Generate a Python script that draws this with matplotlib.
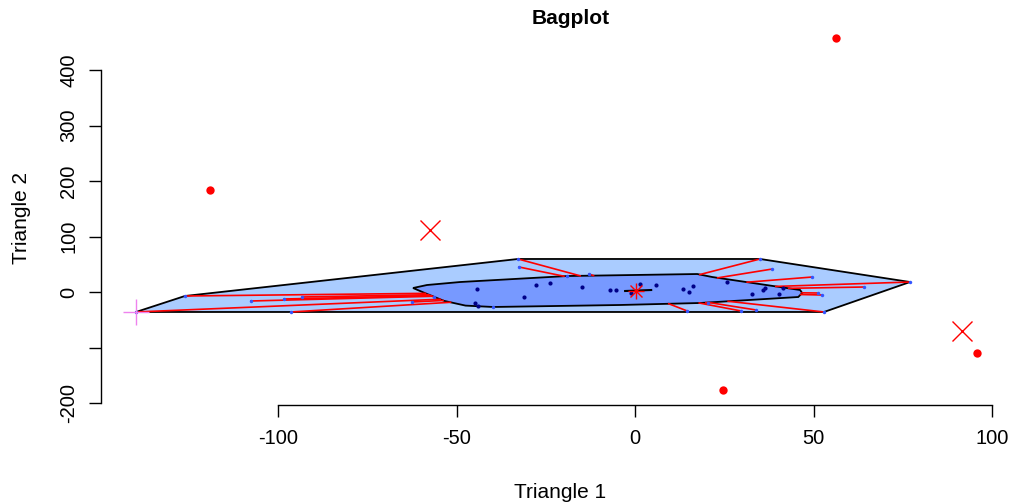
import numpy as np
import matplotlib.pyplot as plt
from matplotlib.path import Path

plt.rcParams['font.family'] = ['Liberation Sans', 'DejaVu Sans']

# outer hull ("loop")
loop_x = [-139.8, -126.1, -32.8, 35.0, 77.0, 52.9]
loop_y = [-36.0, -7.2, 59.5, 59.5, 18.0, -36.0]

# inner hull ("bag")
bag_x = [-62.2, -58.3, -49.0, -19.0, 17.4, 21.6, 46.2, 46.8, 45.7, 18.2, -4.2, -39.8, -47.5, -53.5, -58.5]
bag_y = [7.2, 12.6, 18.0, 28.8, 32.4, 27.0, 3.6, -1.8, -9.0, -19.8, -23.4, -27.0, -24.5, -16.0, -3.0]

# points between bag and loop
loop_pts_x = [-139.8, -126.1, -107.6, -98.3, -93.3, -96.4, -62.5, -56.3,
              -32.8, -32.5, -19.0, -12.9, -39.8,
              35.0, 38.4, 49.6, 77.0, 64.1, 51.3, 52.4, 52.9, 29.7, 33.9, 14.6, 20.4]
loop_pts_y = [-36.0, -7.2, -16.2, -12.6, -9.0, -36.0, -18.0, -9.0,
              59.5, 45.0, 28.8, 32.4, -27.0,
              59.5, 41.4, 27.0, 18.0, 9.0, -1.8, -5.4, -36.0, -34.2, -32.4, -34.2, -19.8]

# points inside the bag
bag_pts_x = [-44.3, -44.8, -44.0, -31.1, -27.7, -23.8, -14.8, -7.0, -5.3, -1.1, 1.4,
             5.9, 13.4, 15.1, 16.2, 25.8, 32.8, 35.9, 36.4, 40.3, 41.5]
bag_pts_y = [5.4, -19.8, -25.2, -9.0, 12.6, 16.2, 9.0, 3.6, 3.6, -1.8, 14.4,
             12.6, 5.4, 0.0, 10.8, 18.0, -3.6, 3.6, 7.2, -3.6, 7.2]

out_x = [-119.0, 56.3, 24.6, 95.8]
out_y = [183.8, 457.7, -176.6, -109.9]

cross_x = [-57.4, 91.6]
cross_y = [111.7, -70.3]

center = (0.3, 1.8)
center_hull_x = [-2.8, 4.5]
center_hull_y = [1.8, 3.6]


def whisker_end(px, py, poly):
    # first crossing of the segment point -> center with the bag border
    cx, cy = center
    best = None
    n = len(poly)
    for i in range(n):
        ax_, ay_ = poly[i]
        bx_, by_ = poly[(i + 1) % n]
        dx, dy = cx - px, cy - py
        ex, ey = bx_ - ax_, by_ - ay_
        den = dx * ey - dy * ex
        if abs(den) < 1e-12:
            continue
        t = ((ax_ - px) * ey - (ay_ - py) * ex) / den
        s = ((ax_ - px) * dy - (ay_ - py) * dx) / den
        if 0 <= t <= 1 and 0 <= s <= 1:
            if best is None or t < best:
                best = t
    if best is None:
        return px, py
    return px + best * (cx - px), py + best * (cy - py)


W, H = 1011, 504
fig = plt.figure(figsize=(W / 100, H / 100), dpi=100)
ax = fig.add_axes([101 / W, (H - 405) / H, 914 / W, 381 / H])

ax.fill(loop_x, loop_y, facecolor='#aaccff', edgecolor='black', lw=1.3, zorder=1)
ax.fill(bag_x, bag_y, facecolor='#7799ff', edgecolor='black', lw=1.3, zorder=2)

bag_poly = list(zip(bag_x, bag_y))
bag_path = Path(bag_poly)
for x, y in zip(loop_pts_x, loop_pts_y):
    if bag_path.contains_point((x, y)):
        continue
    ex, ey = whisker_end(x, y, bag_poly)
    ax.plot([x, ex], [y, ey], color='red', lw=1.2, zorder=3)

ax.plot(loop_pts_x, loop_pts_y, 'o', color='#3355ff', ms=2.5, mew=0, zorder=4)
ax.plot(bag_pts_x, bag_pts_y, 'o', color='#000088', ms=3, mew=0, zorder=4)
ax.plot(center_hull_x, center_hull_y, color='black', lw=1.5, zorder=5)
ax.plot([center[0]], [center[1]], '+', color='red', ms=11, mew=1, zorder=6)
ax.plot([center[0]], [center[1]], 'x', color='red', ms=8, mew=1, zorder=6)

ax.plot(out_x, out_y, 'o', color='red', ms=6, mew=0, zorder=6)
ax.plot(cross_x, cross_y, 'x', color='red', ms=14, mew=1, zorder=6)
ax.plot([loop_x[0]], [loop_y[0]], '+', color='violet', ms=19, mew=1, zorder=6)

ax.set_xlim(-149.6, 106.4)
ax.set_ylim(-203.6, 482.9)
for s in ['top', 'right']:
    ax.spines[s].set_visible(False)
ax.spines['left'].set_bounds(-200, 400)
ax.spines['bottom'].set_bounds(-100, 100)
ax.spines['left'].set_linewidth(1)
ax.spines['bottom'].set_linewidth(1)

ax.set_xticks([-100, -50, 0, 50, 100])
ax.set_xticklabels(['-100', '-50', '0', '50', '100'])
ax.set_yticks([-200, -100, 0, 100, 200, 300, 400])
ax.set_yticklabels(['-200', '', '0', '100', '200', '300', '400'], rotation=90, va='center')
ax.tick_params(axis='both', length=8.5, width=1, labelsize=14.5, direction='out')
ax.tick_params(axis='x', pad=9)
ax.tick_params(axis='y', pad=8)

fig.text(571 / W, 1 - 19 / H, 'Bagplot', ha='center', va='center', fontsize=15, fontweight='bold')
fig.text(560 / W, 1 - 492 / H, 'Triangle 1', ha='center', va='center', fontsize=15)
fig.text(22 / W, 1 - 218 / H, 'Triangle 2', ha='center', va='center', fontsize=15, rotation=90)

fig.savefig('out.png', dpi=100)
